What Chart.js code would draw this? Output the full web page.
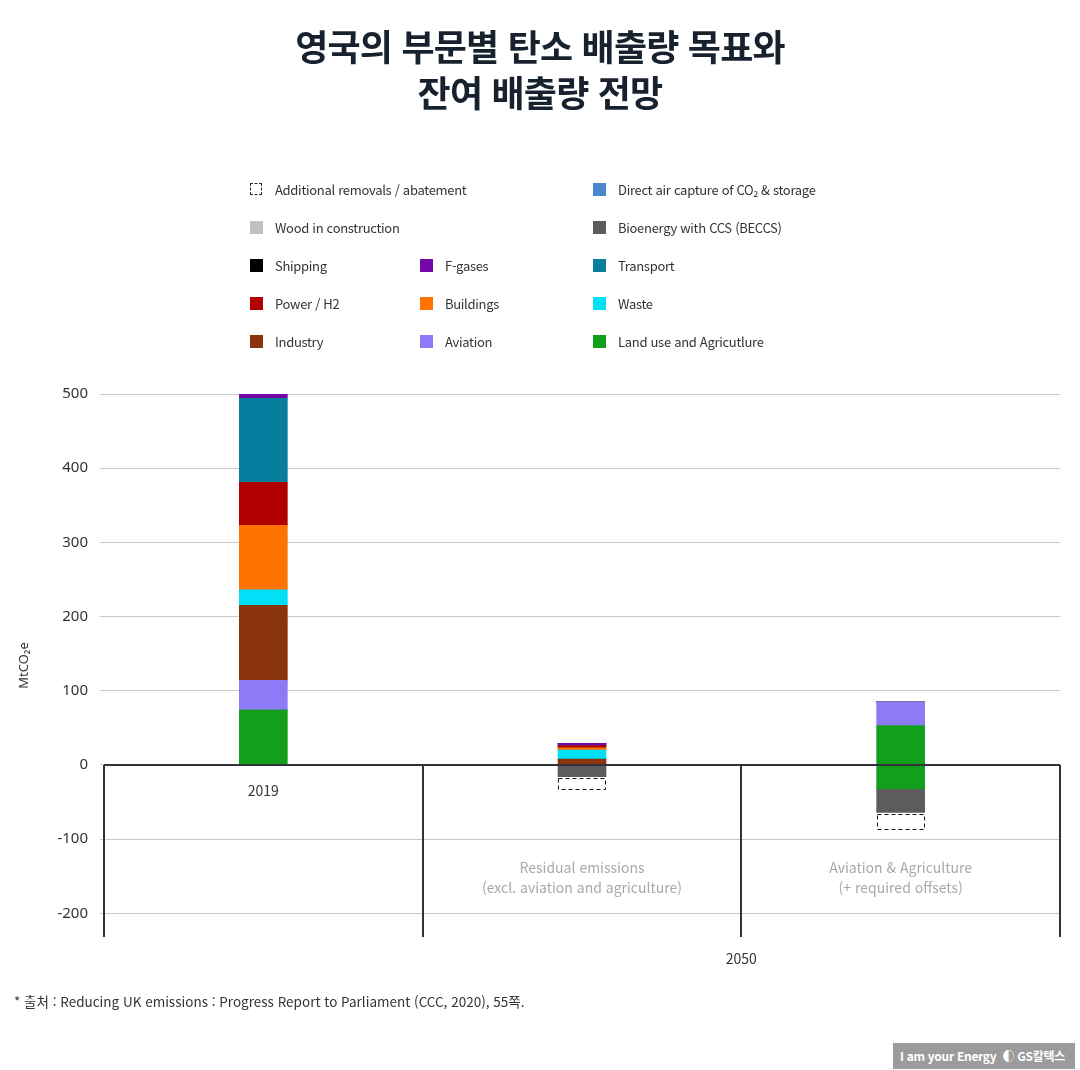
<!DOCTYPE html>
<html lang="ko">
<head>
<meta charset="utf-8">
<script src="https://cdn.jsdelivr.net/npm/chart.js@4"></script>
<style>
  body { margin: 0; background: #fff; font-family: "Noto Sans CJK KR", "Noto Sans", sans-serif; }
  #wrap { position: relative; width: 1080px; height: 1070px; overflow: hidden; }
  #myChart { position: absolute; left: 0; top: 0; }
  .title { position: absolute; left: 0; width: 1080px; text-align: center; font-size: 36px; font-weight: 700; color: #18212e; letter-spacing: -0.8px; line-height: 46px; top: 22px; }
  .lg { position: absolute; font-size: 13px; color: #333; white-space: nowrap; line-height: 16px; letter-spacing: -0.3px; }
  .lg i { position: absolute; left: 0; top: 1px; width: 13px; height: 13px; box-sizing: border-box; }
  .lg span { position: absolute; left: 25px; top: 0; }
  .note { position: absolute; left: 14px; top: 991px; font-size: 13.5px; color: #333; }
  .logo { position: absolute; left: 893px; top: 1043px; width: 182px; height: 26px; background: #9b9b9b; color: #fff; font-size: 12px; font-weight: 700; line-height: 26px; text-align: right; padding-right: 10px; box-sizing: border-box; letter-spacing: -0.3px; }
</style>
</head>
<body>
<div id="wrap">
  <canvas id="myChart" width="1080" height="1070"></canvas>
  <div class="title">영국의 부문별 탄소 배출량 목표와<br>잔여 배출량 전망</div>
  <div id="legend"></div>
  <div class="note">* 출처 : Reducing UK emissions : Progress Report to Parliament (CCC, 2020), 55쪽.</div>
  <div class="logo">I am your Energy &nbsp;◐ GS칼텍스</div>
</div>
<script>
// categories: 2019, 2050 residual, 2050 aviation & agriculture
const categories = ["2019", "Residual emissions", "Aviation & Agriculture"];
const landUse     = [74, 0, 53];
const landUseSink = [0, 0, -32];
const aviation    = [40, 0, 32];
const industry    = [101, 8, 0];
const waste       = [21, 12, 0];
const buildings   = [87, 3, 0];
const power       = [58, 3, 0];
const transport   = [113, 0, 0];
const fGases      = [6, 3, 0];
const shipping    = [0, 0, 0];
const wood        = [0, 0, 0];
const beccs       = [0, -16, -32];
const dac         = [0, 0, 0];
const additional  = [0, -18, -24];
const yTicks = [500, 400, 300, 200, 100, 0, -100, -200];

const datasets = [
    {label: "Land use and Agricutlure", data: landUse, backgroundColor: "#12a01c"},
    {label: "Land use sink", data: landUseSink, backgroundColor: "#12a01c", noLegend: true},
    {label: "Aviation", data: aviation, backgroundColor: "#8c7af7"},
    {label: "Industry", data: industry, backgroundColor: "#8b350e"},
    {label: "Waste", data: waste, backgroundColor: "#00e1f7"},
    {label: "Buildings", data: buildings, backgroundColor: "#ff7300"},
    {label: "Power / H2", data: power, backgroundColor: "#b10000"},
    {label: "Transport", data: transport, backgroundColor: "#087e9e"},
    {label: "F-gases", data: fGases, backgroundColor: "#7408a8"},
    {label: "Shipping", data: shipping, backgroundColor: "#000000"},
    {label: "Wood in construction", data: wood, backgroundColor: "#c0c0c0"},
    {label: "Bioenergy with CCS (BECCS)", data: beccs, backgroundColor: "#5c5c5e"},
    {label: "Direct air capture of CO₂ & storage", data: dac, backgroundColor: "#4a87cb"},
    {label: "Additional removals / abatement", data: additional, backgroundColor: "rgba(0,0,0,0)", dashed: true}
];

// legend grid: [row, column]
const legendLayout = {
    "Additional removals / abatement": [0, 0],
    "Direct air capture of CO₂ & storage": [0, 2],
    "Wood in construction": [1, 0],
    "Bioenergy with CCS (BECCS)": [1, 2],
    "Shipping": [2, 0],
    "F-gases": [2, 1],
    "Transport": [2, 2],
    "Power / H2": [3, 0],
    "Buildings": [3, 1],
    "Waste": [3, 2],
    "Industry": [4, 0],
    "Aviation": [4, 1],
    "Land use and Agricutlure": [4, 2]
};
const colX = [250, 420, 593];
const rowY = [182, 220, 258, 296, 334];

let legendHtml = "";
datasets.forEach(ds => {
    if (ds.noLegend) return;
    const pos = legendLayout[ds.label];
    const sw = ds.dashed
        ? "border:1px dashed #222;background:#fff;width:12px;height:12px;"
        : "background:" + ds.backgroundColor + ";";
    legendHtml += '<div class="lg" style="left:' + colX[pos[1]] + 'px;top:' + rowY[pos[0]] + 'px">' +
        '<i style="' + sw + '"></i><span>' + ds.label + '</span></div>';
});
document.getElementById("legend").innerHTML = legendHtml;

const extras = {
    id: "extras",
    afterDatasetsDraw(chart) {
        const ctx = chart.ctx;
        const x = chart.scales.x, y = chart.scales.y;
        const area = chart.chartArea;
        const y0 = y.getPixelForValue(0);
        // dashed boxes for additional removals
        datasets.forEach((ds, i) => {
            if (!ds.dashed) return;
            chart.getDatasetMeta(i).data.forEach((bar, j) => {
                if (!ds.data[j]) return;
                const top = Math.min(bar.y, bar.base) + 1.5;
                const bot = Math.max(bar.y, bar.base);
                const left = Math.round(bar.x - bar.width / 2);
                ctx.save();
                ctx.fillStyle = "#fff";
                ctx.fillRect(left, top, bar.width, bot - top);
                ctx.setLineDash([4, 3]);
                ctx.strokeStyle = "#111";
                ctx.lineWidth = 1;
                ctx.strokeRect(left + 0.5, Math.round(top) + 0.5, Math.round(bar.width) - 1, Math.round(bot - top) - 1);
                ctx.restore();
            });
        });
        // zero line
        ctx.save();
        ctx.strokeStyle = "#30343a";
        ctx.lineWidth = 2;
        ctx.beginPath();
        ctx.moveTo(area.left, y0);
        ctx.lineTo(area.right, y0);
        // category separators below zero
        const step = (area.right - area.left) / categories.length;
        for (let k = 0; k <= categories.length; k++) {
            const px = Math.round(area.left + k * step);
            ctx.moveTo(px, y0);
            ctx.lineTo(px, area.bottom);
        }
        ctx.stroke();
        // category labels
        ctx.textAlign = "center";
        ctx.textBaseline = "middle";
        ctx.font = "14px 'Noto Sans CJK KR', 'Noto Sans', sans-serif";
        ctx.fillStyle = "#333";
        ctx.fillText(categories[0], x.getPixelForValue(0), y0 + 26);
        ctx.fillStyle = "#a8a8a8";
        ctx.fillText("Residual emissions", x.getPixelForValue(1), y.getPixelForValue(-138));
        ctx.fillText("(excl. aviation and agriculture)", x.getPixelForValue(1), y.getPixelForValue(-165));
        ctx.fillText("Aviation & Agriculture", x.getPixelForValue(2), y.getPixelForValue(-138));
        ctx.fillText("(+ required offsets)", x.getPixelForValue(2), y.getPixelForValue(-165));
        ctx.fillStyle = "#333";
        ctx.fillText("2050", area.left + 2 * step, area.bottom + 22);
        ctx.restore();
    }
};

new Chart("myChart", {
    type: "bar",
    data: {
        labels: categories,
        datasets: datasets.map(ds => ({
            label: ds.label,
            data: ds.data,
            backgroundColor: ds.backgroundColor,
            borderWidth: 0,
            barThickness: 48
        }))
    },
    options: {
        responsive: false,
        animation: false,
        layout: {padding: {top: 394, bottom: 133, left: 0, right: 20}},
        plugins: {legend: {display: false}, tooltip: {enabled: false}},
        scales: {
            x: {stacked: true, display: false},
            y: {
                stacked: true,
                min: -232,
                max: 500,
                afterBuildTicks: scale => {
                    scale.ticks = yTicks.map(v => ({value: v}));
                },
                afterFit: scale => { scale.width = 104; },
                border: {display: false},
                grid: {color: "#c9c9c9", lineWidth: 1, tickLength: 4},
                ticks: {
                    padding: 12,
                    color: "#333",
                    font: {family: "'Noto Sans', sans-serif", size: 15}
                },
                title: {
                    display: true,
                    text: "MtCO₂e",
                    color: "#333",
                    padding: {top: 16, bottom: 0},
                    font: {family: "'Noto Sans', sans-serif", size: 13}
                }
            }
        }
    },
    plugins: [extras]
});
</script>
</body>
</html>
